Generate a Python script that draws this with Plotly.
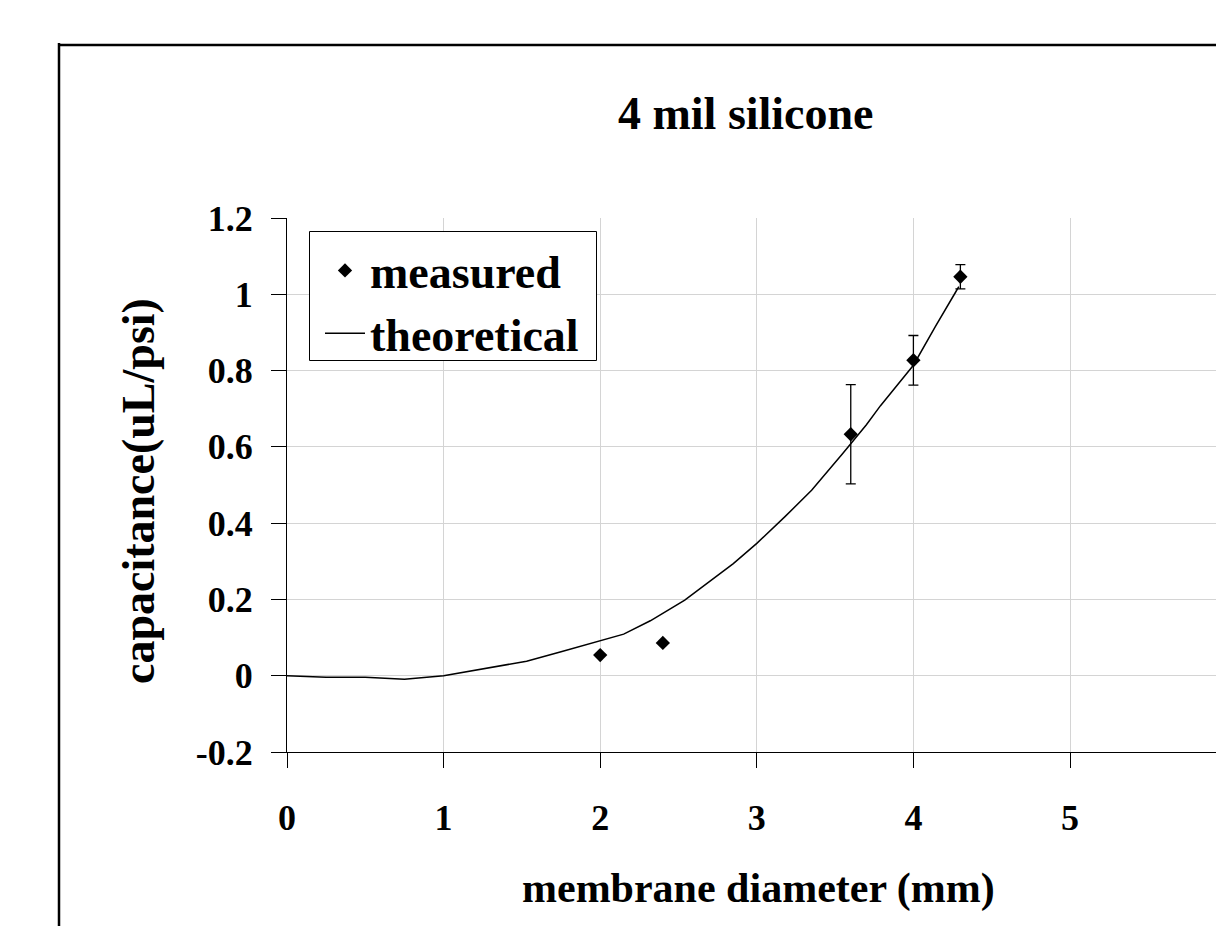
import plotly.graph_objects as go

# Theoretical curve
theory_x = [0.0, 0.25, 0.5, 0.75, 1.0, 1.25, 1.53, 1.75, 2.0, 2.15, 2.32, 2.54, 2.85, 3.0,
            3.18, 3.35, 3.55, 3.70, 3.79, 4.0, 4.14, 4.21, 4.27, 4.29]
theory_y = [0.0, -0.004, -0.004, -0.009, 0.0, 0.017, 0.038, 0.063, 0.091, 0.109, 0.144, 0.198,
            0.294, 0.347, 0.417, 0.486, 0.583, 0.658, 0.708, 0.814, 0.915, 0.962, 1.006, 1.02]

# Measured points
meas_x = [2.0, 2.4, 3.6, 4.0, 4.3]
meas_y = [0.054, 0.086, 0.633, 0.827, 1.046]
meas_err = [None, None, 0.13, 0.065, 0.032]

y_ticks = [-0.2, 0, 0.2, 0.4, 0.6, 0.8, 1, 1.2]
y_ticktext = ["-0.2", "0", "0.2", "0.4", "0.6", "0.8", "1", "1.2"]
x_ticks = [0, 1, 2, 3, 4, 5, 6]
x_ticktext = ["0", "1", "2", "3", "4", "5", "6"]

FONT = "Liberation Serif"
W, H = 1216, 926
L, R, T, B = 287, 0, 218, 174
pw, ph = W - L - R, H - T - B

def px(xp):
    return (xp - L) / pw

def py(yp):
    return (H - B - yp) / ph

fig = go.Figure()
fig.add_trace(go.Scatter(
    x=theory_x, y=theory_y, mode="lines", name="theoretical",
    line=dict(color="black", width=1.5), legendrank=2,
))
fig.add_trace(go.Scatter(
    x=meas_x, y=meas_y, mode="markers", name="measured",
    marker=dict(symbol="diamond", size=11, color="black"),
    error_y=dict(type="data", array=meas_err, visible=True, color="black",
                 thickness=1.3, width=5),
    legendrank=1,
))

fig.update_layout(
    width=W, height=H,
    margin=dict(l=L, r=R, t=T, b=B),
    paper_bgcolor="white", plot_bgcolor="white",
    font=dict(family=FONT, color="black", size=36, weight="bold"),
    showlegend=True,
    legend=dict(
        x=px(320), y=py(234), xanchor="left", yanchor="top",
        bgcolor="rgba(0,0,0,0)", borderwidth=0,
        font=dict(family=FONT, size=46, color="black", weight="bold"),
        itemwidth=40,
    ),
    xaxis=dict(
        range=[0, pw / 156.6], tickvals=x_ticks, ticktext=x_ticktext,
        showgrid=True, gridcolor="#d4d4d4", gridwidth=1,
        showline=True, linecolor="black", linewidth=1,
        ticks="outside", ticklen=15, tickcolor="black", tickwidth=1,
        ticklabelstandoff=19, zeroline=False,
        tickfont=dict(family=FONT, size=36, weight="bold"),
    ),
    yaxis=dict(
        range=[-0.2, 1.2], tickvals=y_ticks, ticktext=y_ticktext,
        showgrid=True, gridcolor="#d4d4d4", gridwidth=1,
        showline=True, linecolor="black", linewidth=1,
        ticks="outside", ticklen=15, tickcolor="black", tickwidth=1,
        ticklabelstandoff=11, zeroline=False,
        tickfont=dict(family=FONT, size=36, weight="bold"),
    ),
    annotations=[
        dict(text="4 mil silicone", x=px(746), y=py(113), xref="paper", yref="paper",
             xanchor="center", yanchor="middle", showarrow=False,
             font=dict(family=FONT, size=46, weight="bold")),
        dict(text="membrane diameter (mm)", x=px(758), y=py(888), xref="paper", yref="paper",
             xanchor="center", yanchor="middle", showarrow=False,
             font=dict(family=FONT, size=42, weight="bold")),
        dict(text="capacitance(uL/psi)", x=px(138), y=py(491), xref="paper", yref="paper",
             xanchor="center", yanchor="middle", showarrow=False, textangle=-90,
             font=dict(family=FONT, size=46, weight="bold")),
    ],
    shapes=[
        dict(type="line", xref="paper", yref="paper", x0=px(59), x1=px(59),
             y0=py(43), y1=py(H + 20), line=dict(color="black", width=2.5)),
        dict(type="line", xref="paper", yref="paper", x0=px(58), x1=px(W + 20),
             y0=py(45), y1=py(45), line=dict(color="black", width=2.5)),
        dict(type="rect", xref="paper", yref="paper", x0=px(309.5), x1=px(596.5),
             y0=py(231.5), y1=py(360.5), line=dict(color="black", width=1),
             fillcolor="white", layer="above"),
    ],
)

fig.write_html("out.html", config={"displayModeBar": False},
               post_script="document.body.style.margin='0';")
